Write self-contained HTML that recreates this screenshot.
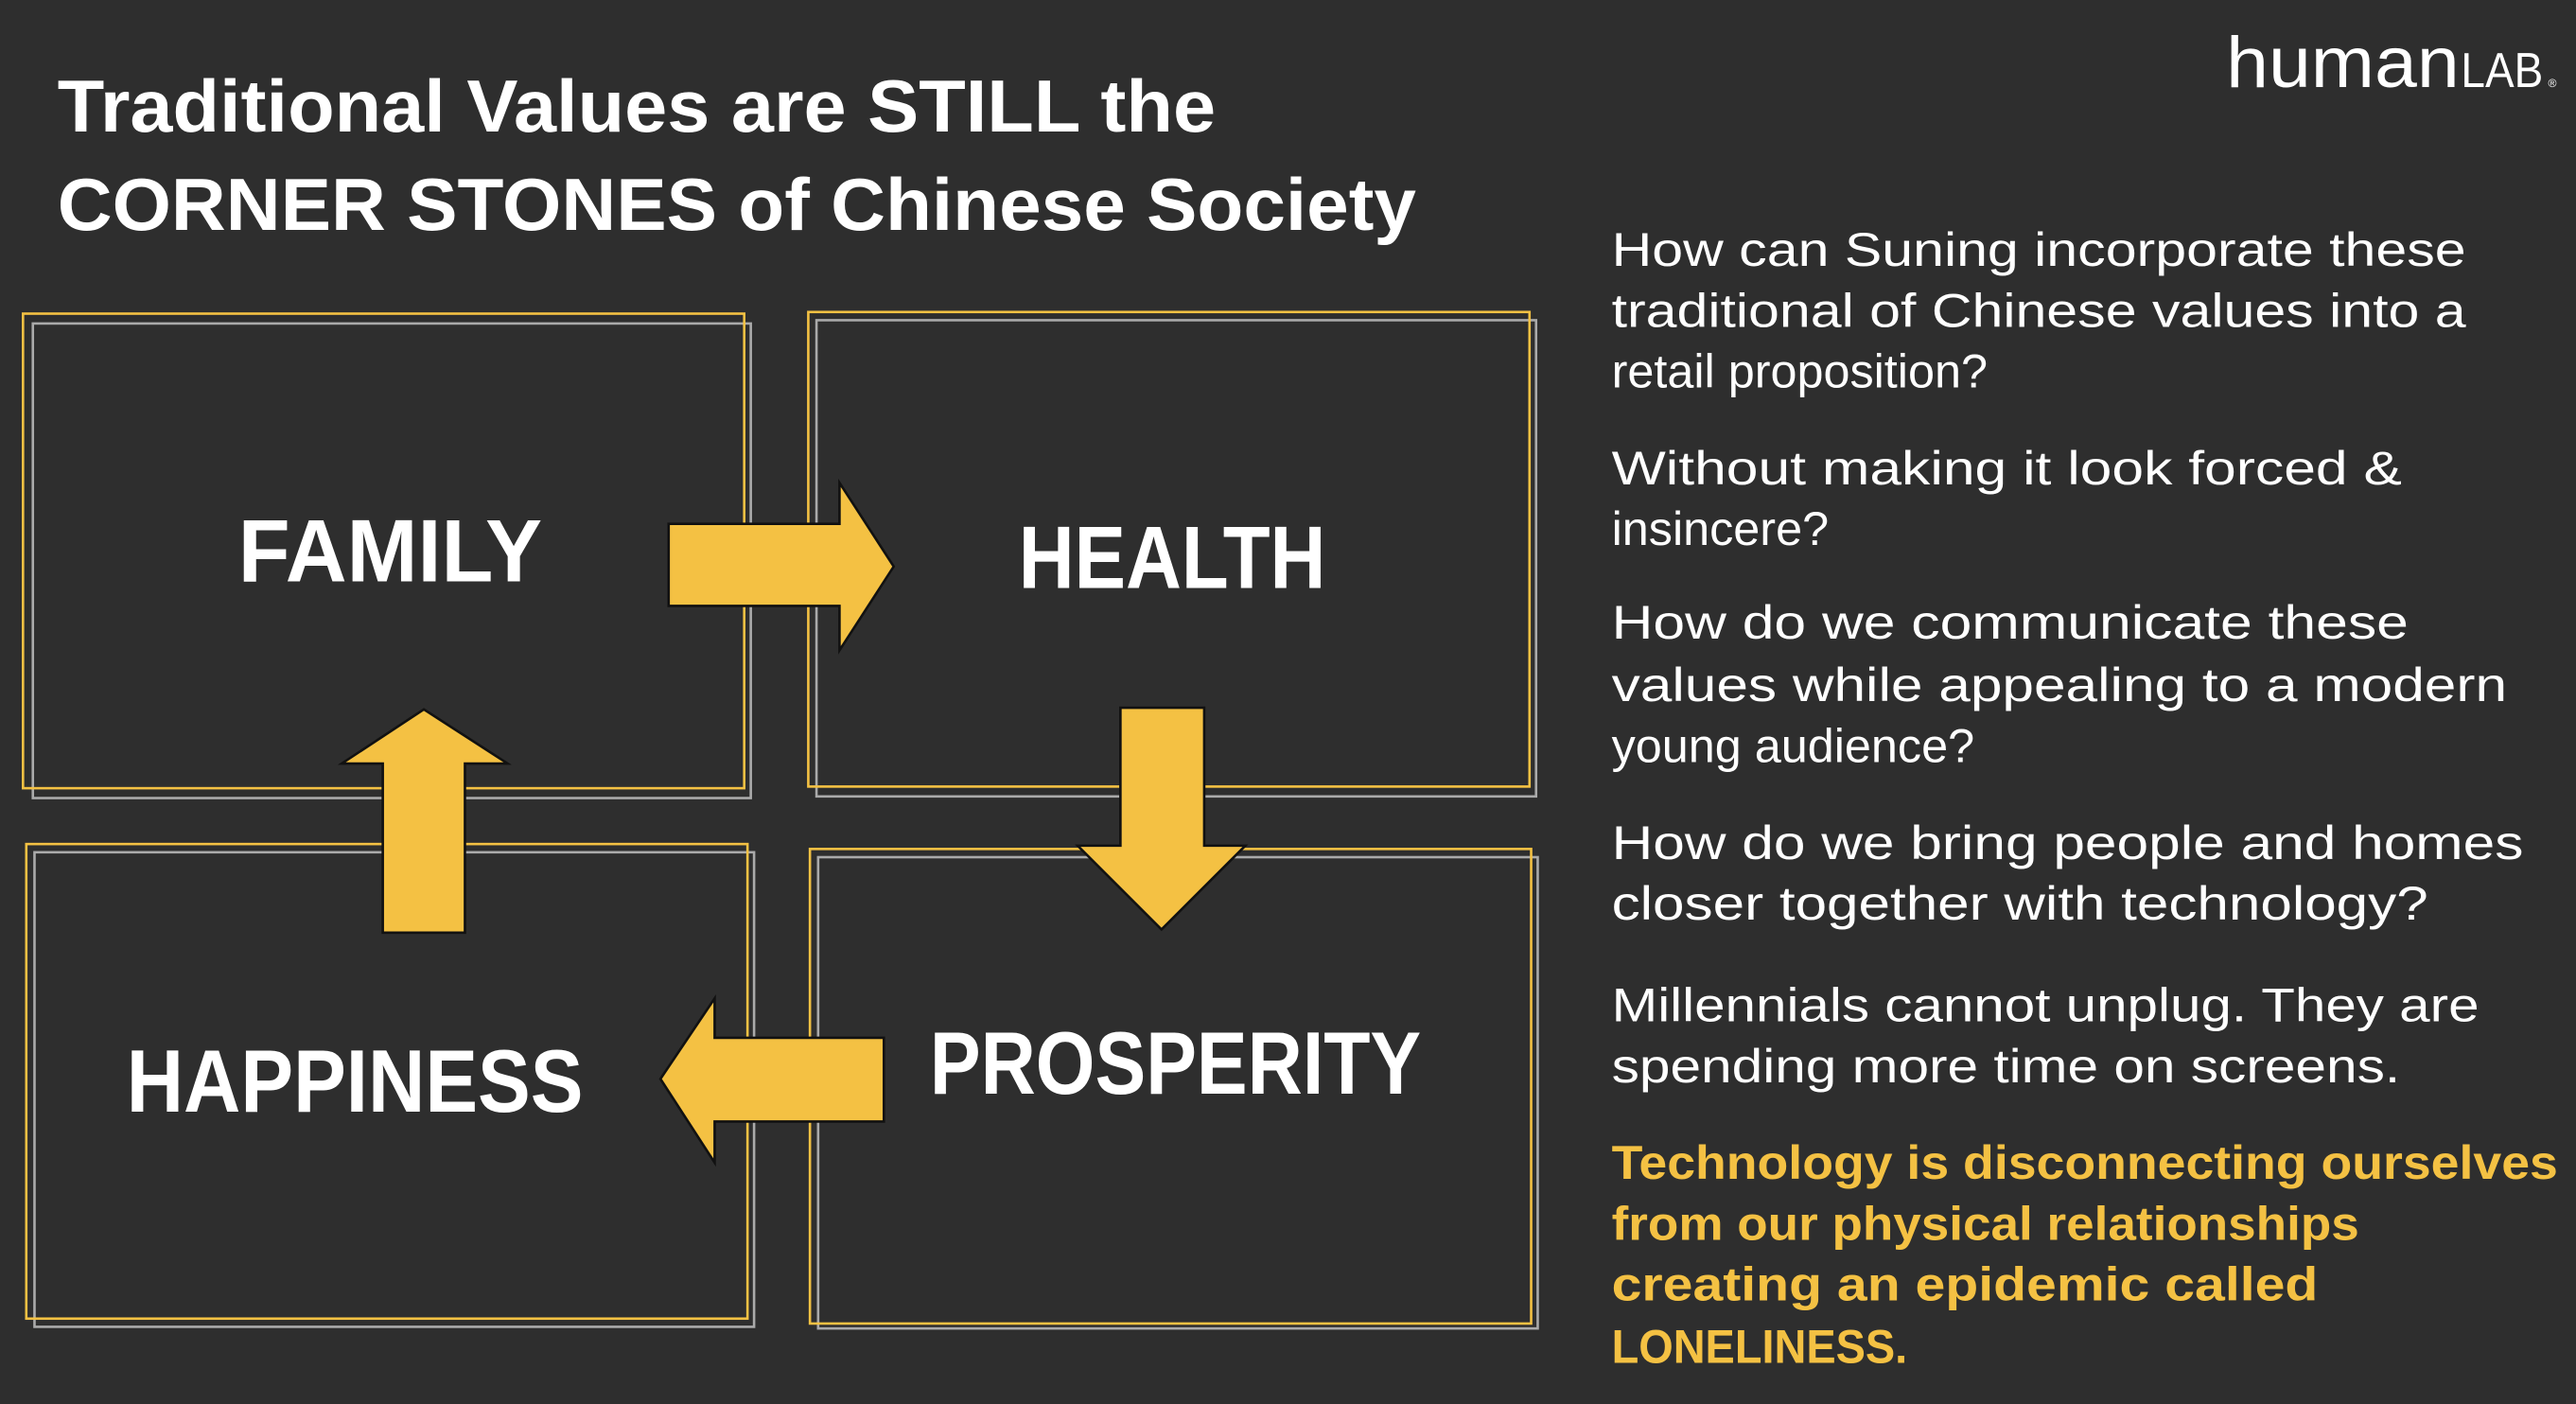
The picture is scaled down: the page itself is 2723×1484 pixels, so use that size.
<!DOCTYPE html>
<html><head><meta charset="utf-8"><style>html,body{margin:0;padding:0;background:#2e2e2e}svg{display:block}</style></head><body>
<svg width="2723" height="1484" viewBox="0 0 1568 855" preserveAspectRatio="none" xmlns="http://www.w3.org/2000/svg">
<rect width="1568" height="855" fill="#2e2e2e"/>
<g font-family="Liberation Sans, sans-serif" fill="#fff">
<text x="35" y="80" font-size="45" font-weight="bold" textLength="705" lengthAdjust="spacingAndGlyphs">Traditional Values are STILL the</text>
<text x="35" y="140" font-size="45" font-weight="bold" textLength="827" lengthAdjust="spacingAndGlyphs">CORNER STONES of Chinese Society</text>
<text x="1355" y="53" font-size="44" textLength="142" lengthAdjust="spacingAndGlyphs">human</text>
<text x="1498" y="53" font-size="30" font-weight="normal" textLength="50" lengthAdjust="spacingAndGlyphs" style="font-weight:100">LAB</text>
<text x="1551" y="53" font-size="7">®</text>
</g>
<g fill="none" stroke-width="1.5">
<rect x="20" y="197" width="437" height="289" stroke="#aaa"/>
<rect x="14" y="191" width="439" height="289" stroke="#f4c143"/>
<rect x="497" y="195" width="438" height="290" stroke="#aaa"/>
<rect x="492" y="190" width="439" height="289" stroke="#f4c143"/>
<rect x="21" y="519" width="438" height="289" stroke="#aaa"/>
<rect x="16" y="514" width="439" height="289" stroke="#f4c143"/>
<rect x="498" y="522" width="438" height="287" stroke="#aaa"/>
<rect x="493" y="517" width="439" height="289" stroke="#f4c143"/>
</g>
<g fill="#f4c143" stroke="#111" stroke-width="1.5">
<polygon points="407,319 511,319 511,294 544,345 511,396 511,369 407,369"/>
<polygon points="682,431 733,431 733,515 758,515 707,566 656,515 682,515"/>
<polygon points="538,632 435,632 435,608 402,657 435,708 435,683 538,683"/>
<polygon points="233,568 233,465 208,465 258,432 309,465 283,465 283,568"/>
</g>
<g font-family="Liberation Sans, sans-serif" fill="#fff" font-weight="bold" font-size="54">
<text x="145" y="354" textLength="185" lengthAdjust="spacingAndGlyphs">FAMILY</text>
<text x="620" y="358" textLength="187" lengthAdjust="spacingAndGlyphs">HEALTH</text>
<text x="77" y="677" textLength="278" lengthAdjust="spacingAndGlyphs">HAPPINESS</text>
<text x="566" y="666" textLength="299" lengthAdjust="spacingAndGlyphs">PROSPERITY</text>
</g>
<g font-family="Liberation Sans, sans-serif" fill="#fff" font-size="29">
<text x="981" y="162" textLength="520" lengthAdjust="spacingAndGlyphs">How can Suning incorporate these</text>
<text x="981" y="199" textLength="520" lengthAdjust="spacingAndGlyphs">traditional of Chinese values into a</text>
<text x="981" y="236">retail proposition?</text>
<text x="981" y="295" textLength="481" lengthAdjust="spacingAndGlyphs">Without making it  look forced &amp;</text>
<text x="981" y="332">insincere?</text>
<text x="981" y="389" textLength="485" lengthAdjust="spacingAndGlyphs">How do we communicate these</text>
<text x="981" y="427" textLength="545" lengthAdjust="spacingAndGlyphs">values while appealing to a modern</text>
<text x="981" y="464">young audience?</text>
<text x="981" y="523" textLength="555" lengthAdjust="spacingAndGlyphs">How do we bring people and homes</text>
<text x="981" y="560" textLength="497" lengthAdjust="spacingAndGlyphs">closer together with technology?</text>
<text x="981" y="622" textLength="528" lengthAdjust="spacingAndGlyphs">Millennials cannot unplug. They are</text>
<text x="981" y="659" textLength="480" lengthAdjust="spacingAndGlyphs">spending more time on screens.</text>
</g>
<g font-family="Liberation Sans, sans-serif" fill="#f4c143" font-size="29" font-weight="bold">
<text x="981" y="718" textLength="576" lengthAdjust="spacingAndGlyphs">Technology is disconnecting ourselves</text>
<text x="981" y="755" textLength="455" lengthAdjust="spacingAndGlyphs">from our physical relationships</text>
<text x="981" y="792" textLength="430" lengthAdjust="spacingAndGlyphs">creating an epidemic called</text>
<text x="981" y="830" textLength="180" lengthAdjust="spacingAndGlyphs">LONELINESS.</text>
</g>
</svg>
</body></html>
